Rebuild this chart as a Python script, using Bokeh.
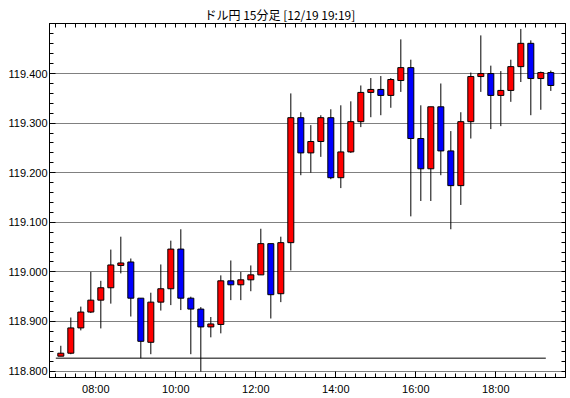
from bokeh.plotting import figure
from bokeh.models import (Range1d, LinearAxis, FixedTicker, NumeralTickFormatter,
                          Grid, ColumnDataSource)
from bokeh.embed import file_html
from bokeh.resources import INLINE

TITLE = "ドル円 15分足 [12/19 19:19]"

times = ["07:00", "07:15", "07:30", "07:45", "08:00", "08:15", "08:30", "08:45",
         "09:00", "09:15", "09:30", "09:45", "10:00", "10:15", "10:30", "10:45",
         "11:00", "11:15", "11:30", "11:45", "12:00", "12:15", "12:30", "12:45",
         "13:00", "13:15", "13:30", "13:45", "14:00", "14:15", "14:30", "14:45",
         "15:00", "15:15", "15:30", "15:45", "16:00", "16:15", "16:30", "16:45",
         "17:00", "17:15", "17:30", "17:45", "18:00", "18:15", "18:30", "18:45",
         "19:00", "19:15"]

opens = [118.830, 118.836, 118.887, 118.919, 118.943, 118.968, 119.013, 119.020,
         118.947, 118.858, 118.939, 118.966, 119.046, 118.947, 118.925, 118.889,
         118.894, 118.982, 118.974, 118.984, 118.994, 119.057, 118.956, 119.059,
         119.311, 119.240, 119.263, 119.311, 119.190, 119.242, 119.303, 119.362,
         119.368, 119.356, 119.386, 119.412, 119.269, 119.208, 119.333, 119.244,
         119.174, 119.303, 119.394, 119.400, 119.356, 119.366, 119.414, 119.461,
         119.390, 119.402]
highs = [118.851, 118.908, 118.930, 119.000, 118.982, 119.045, 119.071, 119.027,
         118.947, 118.958, 119.015, 119.063, 119.086, 118.950, 118.929, 118.909,
         118.993, 119.023, 119.000, 119.013, 119.087, 119.057, 119.071, 119.360,
         119.322, 119.296, 119.316, 119.328, 119.336, 119.344, 119.376, 119.391,
         119.395, 119.391, 119.469, 119.428, 119.336, 119.333, 119.380, 119.284,
         119.322, 119.402, 119.477, 119.416, 119.405, 119.428, 119.490, 119.467,
         119.404, 119.406]
lows = [118.830, 118.834, 118.882, 118.917, 118.886, 118.936, 118.997, 118.910,
        118.826, 118.834, 118.922, 118.933, 118.923, 118.834, 118.799, 118.868,
        118.876, 118.943, 118.943, 118.961, 118.994, 118.906, 118.939, 119.003,
        119.195, 119.200, 119.232, 119.187, 119.169, 119.240, 119.292, 119.312,
        119.316, 119.331, 119.363, 119.112, 119.143, 119.143, 119.195, 119.086,
        119.135, 119.269, 119.363, 119.288, 119.294, 119.343, 119.383, 119.316,
        119.327, 119.365]
closes = [118.836, 118.887, 118.919, 118.943, 118.968, 119.014, 119.018, 118.947,
          118.860, 118.939, 118.966, 119.046, 118.947, 118.925, 118.889, 118.895,
          118.982, 118.974, 118.984, 118.994, 119.057, 118.954, 119.059, 119.311,
          119.240, 119.263, 119.311, 119.190, 119.242, 119.303, 119.362, 119.368,
          119.356, 119.388, 119.412, 119.269, 119.208, 119.333, 119.244, 119.174,
          119.303, 119.394, 119.400, 119.356, 119.366, 119.414, 119.461, 119.390,
          119.402, 119.376]

REF_LEVEL = 118.826
y_major = [118.8, 118.9, 119.0, 119.1, 119.2, 119.3, 119.4]
x_major = [8, 10, 12, 14, 16, 18]
x_labels = ["08:00", "10:00", "12:00", "14:00", "16:00", "18:00"]

UP = "#ff0000"
DOWN = "#0000ff"


def to_hours(t):
    h, m = t.split(":")
    return int(h) + int(m) / 60.0


starts = [to_hours(t) for t in times]
xs = [s + 0.125 for s in starts]  # candle centred in its 15-minute slot
body_top = [max(o, c) for o, c in zip(opens, closes)]
body_bot = [min(o, c) for o, c in zip(opens, closes)]
colors = [UP if c >= o else DOWN for o, c in zip(opens, closes)]

src = ColumnDataSource(dict(x=xs, high=highs, low=lows, top=body_top,
                            bottom=body_bot, color=colors))

p = figure(width=570, height=398,
           x_range=Range1d(6.842, 19.742), y_range=Range1d(118.787, 119.501),
           output_backend="svg", toolbar_location=None,
           x_axis_location=None, y_axis_location=None,
           min_border_left=49, min_border_right=5, min_border_top=23,
           min_border_bottom=21)
for g in p.grid:
    g.visible = False
p.background_fill_color = "white"
p.border_fill_color = "white"
p.outline_line_color = "black"
p.outline_line_width = 1

p.title.text = TITLE
p.title.text_font = "Noto Sans CJK JP"
p.title.text_font_size = "12px"
p.title.text_font_style = "normal"
p.title.align = "left"
p.title.text_color = "black"
p.title.standoff = 2
p.title.offset = 155

minor_x = [7 + 0.25 * k for k in range(52)]
minor_y = [round(118.8 + 0.02 * k, 3) for k in range(36)]
xticker = FixedTicker(ticks=x_major, minor_ticks=minor_x)
yticker = FixedTicker(ticks=y_major, minor_ticks=minor_y)
xticker_plain = FixedTicker(ticks=[], minor_ticks=minor_x)
yticker_plain = FixedTicker(ticks=[], minor_ticks=minor_y)

LABEL_FONT = "Liberation Sans"


def style_axis(ax):
    ax.axis_line_color = "black"
    ax.major_tick_line_color = "black"
    ax.minor_tick_line_color = "black"
    ax.major_tick_in = 6
    ax.major_tick_out = 0
    ax.minor_tick_in = 4
    ax.minor_tick_out = 0
    ax.major_label_text_font = LABEL_FONT
    ax.major_label_text_font_size = "11px"
    ax.major_label_text_color = "black"


bottom = LinearAxis(ticker=xticker,
                    major_label_overrides={float(t): l for t, l in zip(x_major, x_labels)})
style_axis(bottom)
bottom.major_label_standoff = 5
top = LinearAxis(ticker=xticker_plain)
style_axis(top)
top.major_label_standoff = 0
left = LinearAxis(ticker=yticker, formatter=NumeralTickFormatter(format="0.000"))
style_axis(left)
left.major_label_standoff = 2
right = LinearAxis(ticker=yticker_plain)
style_axis(right)
right.major_label_standoff = 0

p.add_layout(bottom, "below")
p.add_layout(top, "above")
p.add_layout(left, "left")
p.add_layout(right, "right")

p.add_layout(Grid(dimension=1, ticker=FixedTicker(ticks=y_major),
                  grid_line_color="black", grid_line_dash="1 1",
                  grid_line_width=1))

# reference level line
p.segment(x0=[starts[0]], y0=[REF_LEVEL], x1=[starts[-1]], y1=[REF_LEVEL],
          line_color="black", line_width=1)

p.segment(x0="x", y0="low", x1="x", y1="high", source=src,
          line_color="black", line_width=1)
p.vbar(x="x", width=0.15, top="top", bottom="bottom", source=src,
       fill_color="color", line_color="black", line_width=1)

open("out.html", "w").write(file_html(p, INLINE))
